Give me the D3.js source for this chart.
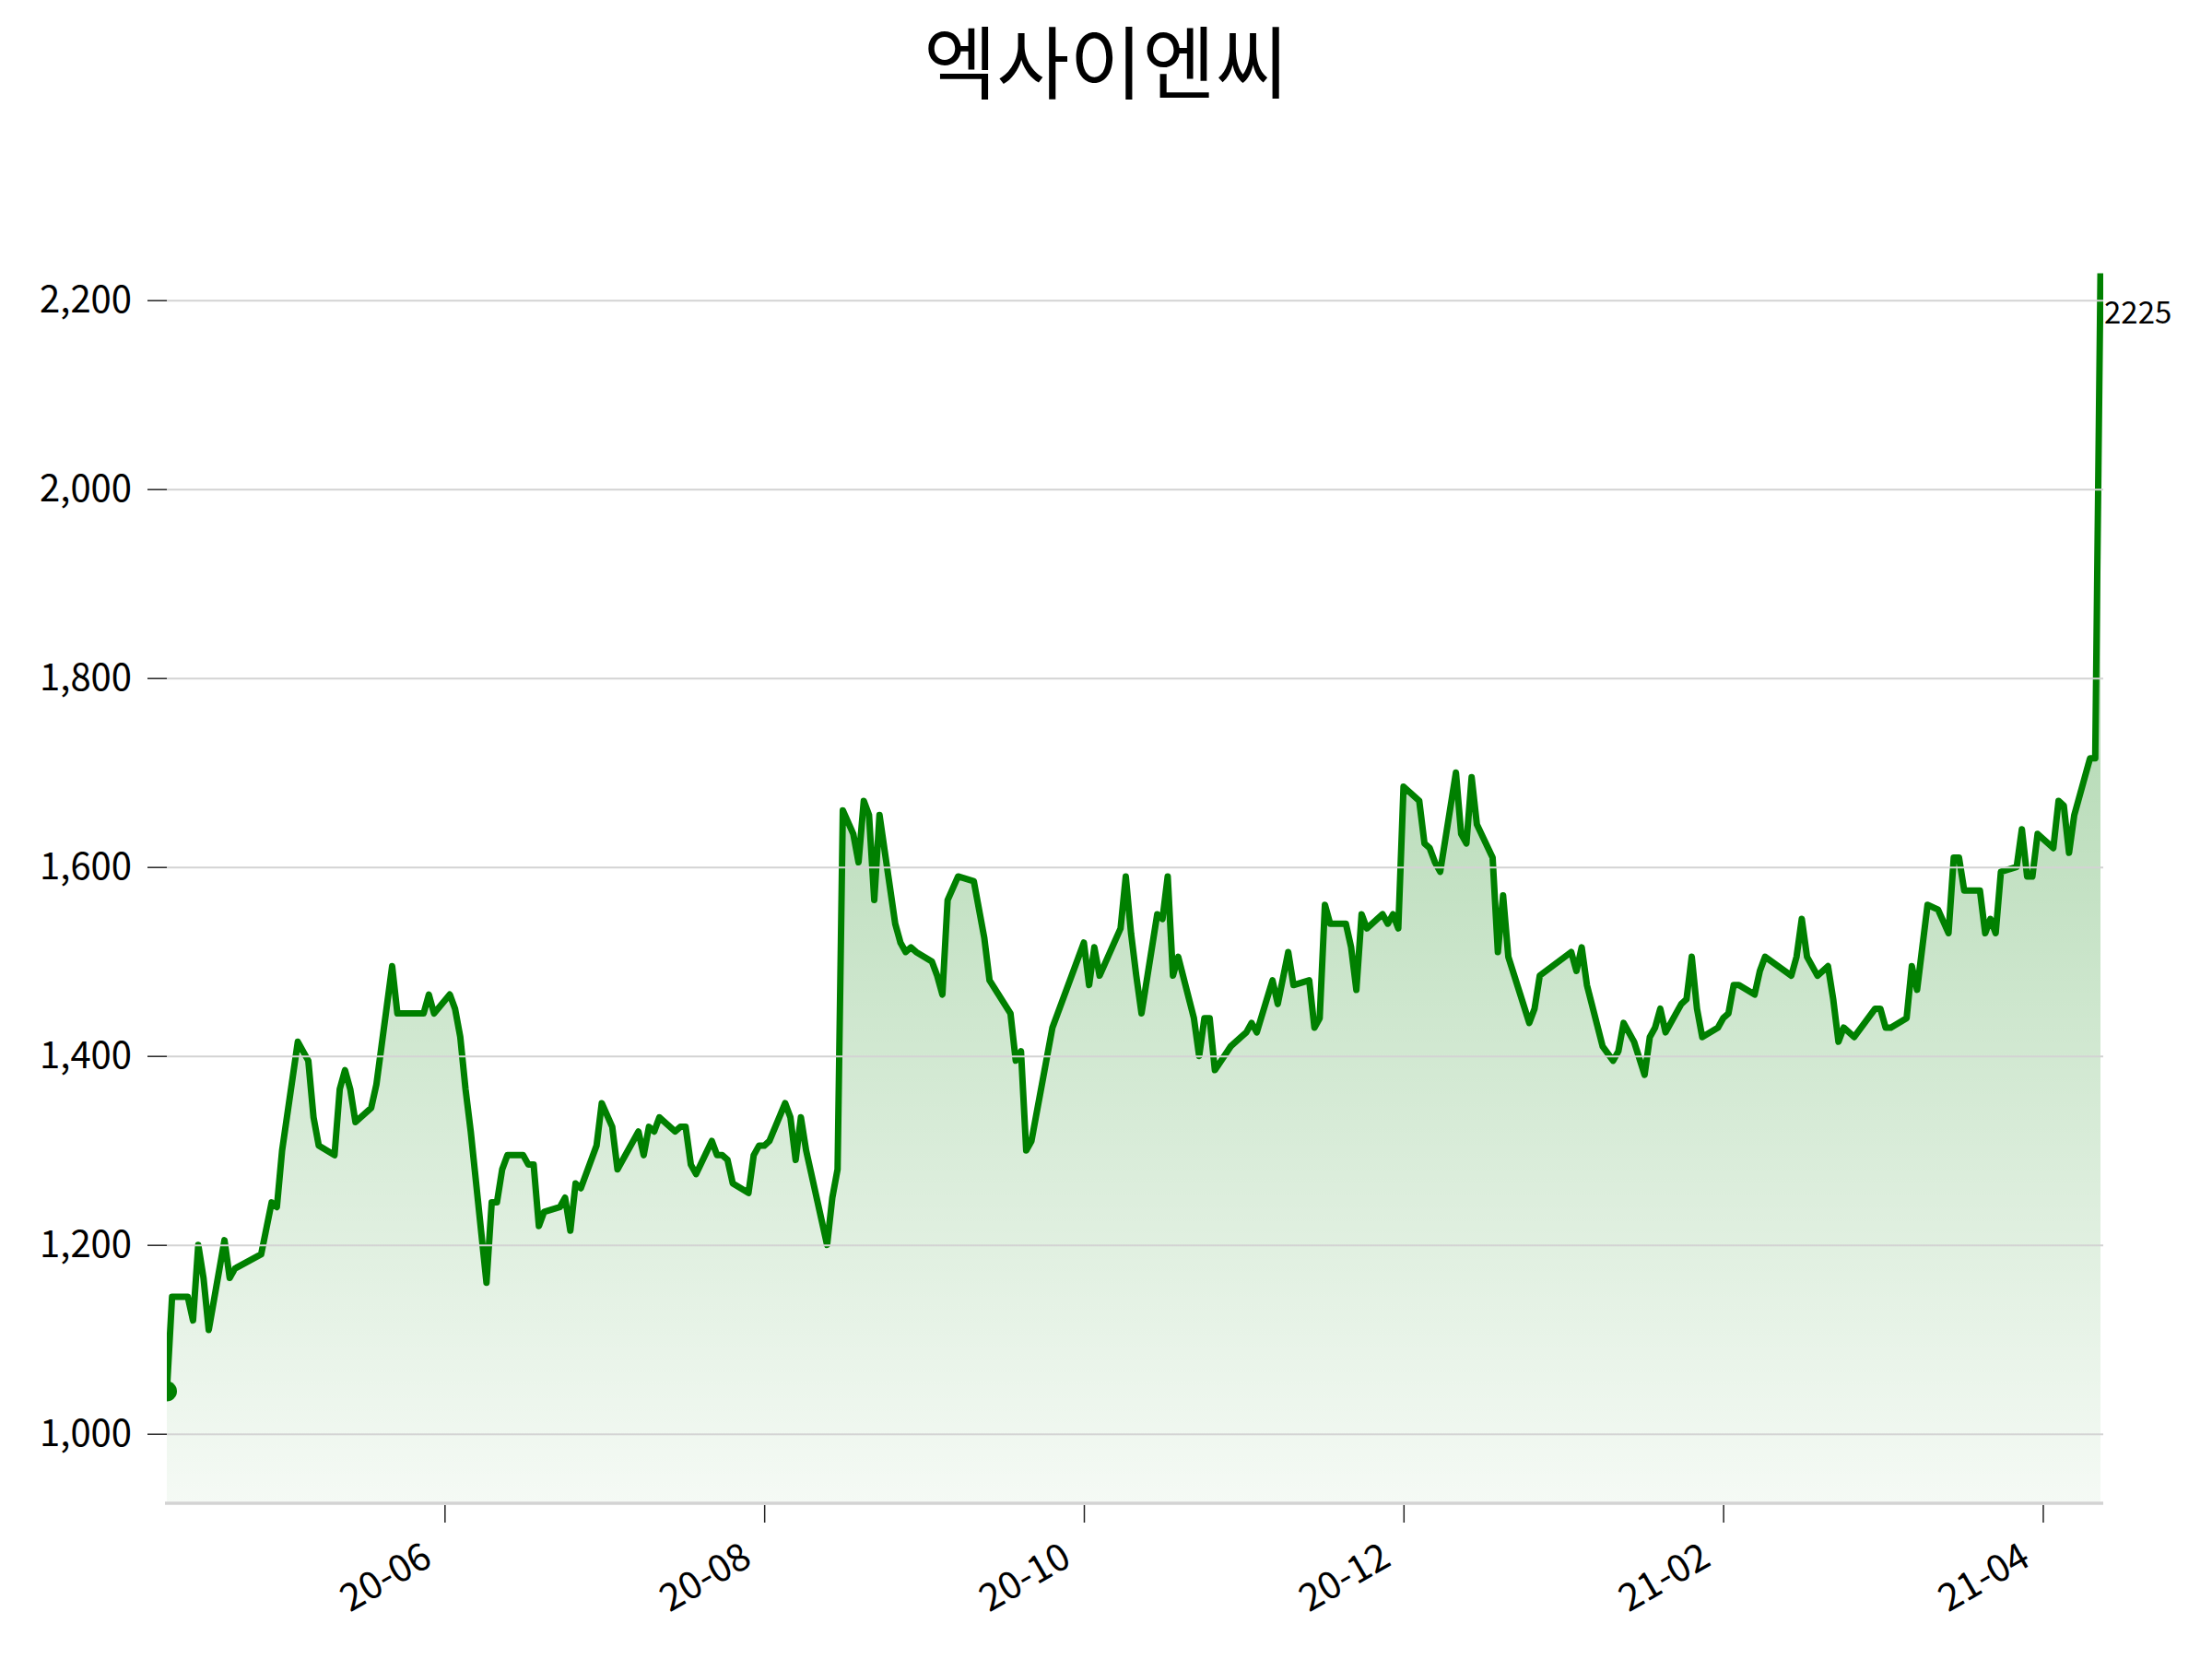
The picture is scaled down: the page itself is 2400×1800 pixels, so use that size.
<!DOCTYPE html>
<html>
<head>
<meta charset="utf-8">
<script src="https://cdn.jsdelivr.net/npm/d3@7"></script>
<style>
  body { margin: 0; background: #fff; }
  svg { display: block; }
  text { font-family: "Noto Sans CJK KR", "Noto Sans", sans-serif; }
</style>
</head>
<body>
<svg width="2400" height="1800"></svg>
<script>
var title = "엑사이엔씨";
var startDate = "2020-04-13";

// days after startDate for each point
var dayOffsets = [
  0, 1, 4, 5, 6, 7, 8, 11, 12, 13,
  18, 20, 21, 22, 25, 27, 28, 29, 32, 33,
  34, 35, 36, 39, 40, 43, 44, 49, 50, 51,
  54, 55, 56, 57, 58, 61, 62, 63, 64, 65,
  68, 69, 70, 71, 72, 75, 76, 77, 78, 79,
  82, 83, 85, 86, 90, 91, 92, 93, 94, 97,
  98, 99, 100, 101, 104, 105, 106, 107, 108, 111,
  112, 113, 114, 115, 118, 119, 120, 121, 122, 126,
  127, 128, 129, 131, 132, 133, 134, 135, 136, 139,
  140, 141, 142, 143, 146, 147, 148, 149, 151, 154,
  156, 157, 161, 162, 163, 164, 165, 169, 175, 176,
  177, 178, 182, 183, 184, 185, 186, 189, 190, 191,
  192, 193, 196, 197, 198, 199, 200, 203, 205, 206,
  207, 208, 211, 212, 214, 215, 218, 219, 220, 221,
  222, 225, 226, 227, 228, 229, 232, 233, 234, 235,
  236, 239, 240, 241, 242, 243, 246, 247, 248, 249,
  250, 253, 254, 255, 256, 260, 261, 262, 268, 269,
  270, 271, 274, 276, 277, 278, 280, 282, 283, 284,
  285, 286, 289, 290, 291, 292, 293, 296, 297, 298,
  299, 300, 303, 304, 305, 310, 311, 312, 313, 315,
  317, 318, 319, 320, 322, 326, 327, 328, 329, 332,
  333, 334, 336, 338, 340, 341, 342, 343, 346, 347,
  348, 349, 350, 353, 354, 355, 356, 357, 360, 361,
  362, 363, 364, 367, 368, 369
];

var prices = [
  1045, 1145, 1145, 1120, 1200, 1165, 1110, 1205, 1165, 1175,
  1190, 1245, 1240, 1300, 1415, 1395, 1335, 1305, 1295, 1365,
  1385, 1365, 1330, 1345, 1370, 1495, 1445, 1445, 1465, 1445,
  1465, 1450, 1420, 1365, 1320, 1160, 1245, 1245, 1280, 1295,
  1295, 1285, 1285, 1220, 1235, 1240, 1250, 1215, 1265, 1260,
  1305, 1350, 1325, 1280, 1320, 1295, 1325, 1320, 1335, 1320,
  1325, 1325, 1285, 1275, 1310, 1295, 1295, 1290, 1265, 1255,
  1295, 1305, 1305, 1310, 1350, 1335, 1290, 1335, 1300, 1200,
  1250, 1280, 1660, 1635, 1605, 1670, 1655, 1565, 1655, 1540,
  1520, 1510, 1515, 1510, 1500, 1485, 1465, 1565, 1590, 1585,
  1525, 1480, 1445, 1395, 1405, 1300, 1310, 1430, 1520, 1475,
  1515, 1485, 1535, 1590, 1530, 1485, 1445, 1550, 1545, 1590,
  1485, 1505, 1440, 1400, 1440, 1440, 1385, 1410, 1420, 1425,
  1435, 1425, 1480, 1455, 1510, 1475, 1480, 1430, 1440, 1560,
  1540, 1540, 1515, 1470, 1550, 1535, 1550, 1540, 1550, 1535,
  1685, 1670, 1625, 1620, 1605, 1595, 1700, 1635, 1625, 1695,
  1645, 1610, 1510, 1570, 1505, 1435, 1450, 1485, 1510, 1490,
  1515, 1475, 1410, 1395, 1405, 1435, 1415, 1380, 1420, 1430,
  1450, 1425, 1455, 1460, 1505, 1450, 1420, 1430, 1440, 1445,
  1475, 1475, 1465, 1490, 1505, 1485, 1505, 1545, 1505, 1485,
  1495, 1460, 1415, 1430, 1420, 1450, 1450, 1430, 1430, 1440,
  1495, 1470, 1560, 1555, 1530, 1610, 1610, 1575, 1575, 1530,
  1545, 1530, 1595, 1600, 1640, 1590, 1590, 1635, 1620, 1670,
  1665, 1615, 1655, 1715, 1715, 2225
];

var yTicks = [1000, 1200, 1400, 1600, 1800, 2000, 2200];
var xTicks = ["2020-06-05", "2020-08-05", "2020-10-05", "2020-12-05", "2021-02-04", "2021-04-06"];

var parse = d3.timeParse("%Y-%m-%d");
var start = parse(startDate);
var data = dayOffsets.map(function (d, i) {
  return { date: d3.timeDay.offset(start, d), value: prices[i] };
});

var left = 181, right = 2282, bottom = 1631;

var svg = d3.select("svg");

var x = d3.scaleTime()
    .domain(d3.extent(data, function (d) { return d.date; }))
    .range([181, 2279]);

var y = d3.scaleLinear()
    .domain([1000, 2200])
    .range([1555.7, 325.7]);

var defs = svg.append("defs");
defs.append("clipPath").attr("id", "clip")
  .append("rect")
    .attr("x", left).attr("y", 0)
    .attr("width", right - left).attr("height", bottom);

var grad = defs.append("linearGradient")
    .attr("id", "fillGrad")
    .attr("gradientUnits", "userSpaceOnUse")
    .attr("x1", 0).attr("x2", 0)
    .attr("y1", y(d3.max(prices))).attr("y2", bottom);
grad.append("stop").attr("offset", 0).attr("stop-color", "#008000").attr("stop-opacity", 0.42);
grad.append("stop").attr("offset", 1).attr("stop-color", "#008000").attr("stop-opacity", 0.04);

// title
svg.append("text")
    .attr("x", 1200).attr("y", 101)
    .attr("text-anchor", "middle")
    .style("font-size", "86px")
    .style("fill", "#000")
    .text(title);

var plot = svg.append("g").attr("clip-path", "url(#clip)");

// area
plot.append("path")
    .datum(data)
    .attr("fill", "url(#fillGrad)")
    .attr("d", d3.area()
      .x(function (d) { return x(d.date); })
      .y0(bottom)
      .y1(function (d) { return y(d.value); }));

// grid
svg.append("g")
    .attr("transform", "translate(" + left + ",0)")
    .call(d3.axisLeft(y).tickValues(yTicks).tickSize(-(right - left)).tickFormat(""))
    .call(function (g) {
      g.select(".domain").remove();
      g.selectAll("line").attr("stroke", "#d3d3d3").attr("stroke-width", 2);
    });

// bottom spine
svg.append("line")
    .attr("x1", left - 2).attr("x2", right)
    .attr("y1", bottom).attr("y2", bottom)
    .attr("stroke", "#d3d3d3").attr("stroke-width", 3.5);

// line
plot.append("path")
    .datum(data)
    .attr("fill", "none")
    .attr("stroke", "#008000")
    .attr("stroke-width", 7)
    .attr("stroke-linejoin", "round")
    .attr("stroke-linecap", "square")
    .attr("d", d3.line()
      .x(function (d) { return x(d.date); })
      .y(function (d) { return y(d.value); }));

// start dot
plot.append("circle")
    .attr("cx", x(data[0].date))
    .attr("cy", y(data[0].value))
    .attr("r", 11)
    .attr("fill", "#008000");

// last value label
var last = data[data.length - 1];
svg.append("text")
    .attr("x", x(last.date) + 4)
    .attr("y", y(last.value) + 51)
    .style("font-size", "33px")
    .style("fill", "#000")
    .text(last.value);

// y axis
svg.append("g")
    .attr("transform", "translate(" + left + ",0)")
    .call(d3.axisLeft(y).tickValues(yTicks).tickSize(21).tickPadding(17).tickFormat(d3.format(",")))
    .call(function (g) {
      g.select(".domain").remove();
      g.selectAll("line").attr("stroke", "#222").attr("stroke-width", 1.5);
      g.selectAll("text")
        .style("font-size", "40px")
        .style("font-family", "'Noto Sans CJK KR', sans-serif")
        .attr("fill", "#000");
    });

// x axis
svg.append("g")
    .attr("transform", "translate(0," + (bottom + 2) + ")")
    .call(d3.axisBottom(x).tickValues(xTicks.map(parse)).tickSize(19).tickFormat(d3.timeFormat("%y-%m")))
    .call(function (g) {
      g.select(".domain").remove();
      g.selectAll("line").attr("stroke", "#222").attr("stroke-width", 1.5);
      g.selectAll("text")
        .attr("x", 0).attr("y", 0).attr("dy", 0)
        .attr("text-anchor", "end")
        .attr("transform", "translate(-12,64) rotate(-30)")
        .style("font-size", "41px")
        .style("font-family", "'Noto Sans CJK KR', sans-serif")
        .attr("fill", "#000");
    });
</script>
</body>
</html>
